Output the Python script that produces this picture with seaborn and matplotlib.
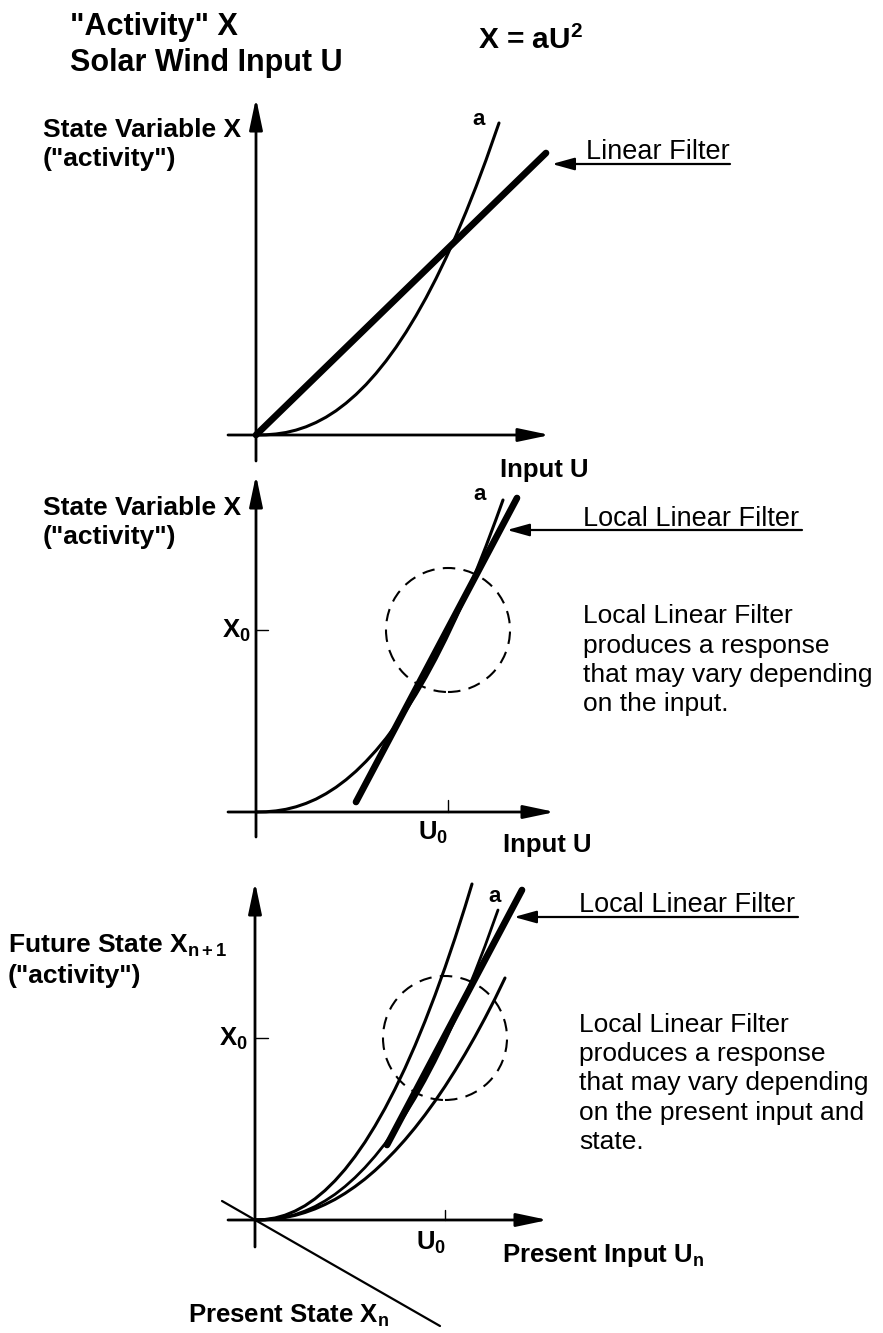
import matplotlib
matplotlib.use("Agg")
import matplotlib.pyplot as plt
from matplotlib.patches import Circle
import seaborn as sns

W, H, S = 883, 1333, 100   # figure size in px, px per unit

# ---- panel 1: X = aU^2 and one global linear filter (units, origin at axes cross)
p1_curve_u = [0, 0.1, 0.2, 0.3, 0.4, 0.5, 0.6, 0.7, 0.8, 0.9, 1.0, 1.1, 1.2, 1.3,
              1.4, 1.5, 1.6, 1.7, 1.8, 1.9, 2.0, 2.1, 2.2, 2.3, 2.43]
p1_curve_x = [0, 0.002, 0.010, 0.025, 0.049, 0.082, 0.125, 0.178, 0.242, 0.318,
              0.405, 0.504, 0.616, 0.740, 0.877, 1.028, 1.193, 1.371, 1.564,
              1.771, 1.993, 2.230, 2.482, 2.749, 3.12]
p1_filter_u = [0, 2.90]
p1_filter_x = [0, 2.82]

# ---- panel 2: local linear filter around (U0, X0)
p2_curve_u = [0, 0.1, 0.2, 0.3, 0.4, 0.5, 0.6, 0.7, 0.8, 0.9, 1.0, 1.1, 1.2, 1.3,
              1.4, 1.5, 1.6, 1.7, 1.8, 1.9, 2.0, 2.1, 2.2, 2.3, 2.4, 2.47]
p2_curve_x = [0, 0.002, 0.011, 0.027, 0.052, 0.086, 0.129, 0.183, 0.247, 0.322,
              0.408, 0.506, 0.615, 0.736, 0.870, 1.016, 1.175, 1.346, 1.531,
              1.729, 1.941, 2.166, 2.405, 2.658, 2.926, 3.12]
p2_filter_u = [1.00, 2.61]
p2_filter_x = [0.10, 3.14]
p2_u0, p2_x0 = 1.92, 1.82

# ---- panel 3: family of curves depending on present state
p3_left_u = [0, 0.1, 0.2, 0.3, 0.4, 0.5, 0.6, 0.7, 0.8, 0.9, 1.0, 1.1, 1.2, 1.3,
             1.4, 1.5, 1.6, 1.7, 1.8, 1.9, 2.0, 2.1, 2.17]
p3_left_x = [0, 0.005, 0.020, 0.048, 0.089, 0.143, 0.212, 0.295, 0.393, 0.506,
             0.635, 0.779, 0.940, 1.116, 1.309, 1.518, 1.744, 1.987, 2.247,
             2.524, 2.818, 3.130, 3.36]
p3_mid_u = [0, 0.1, 0.2, 0.3, 0.4, 0.5, 0.6, 0.7, 0.8, 0.9, 1.0, 1.1, 1.2, 1.3,
            1.4, 1.5, 1.6, 1.7, 1.8, 1.9, 2.0, 2.1, 2.2, 2.3, 2.43]
p3_mid_x = [0, 0.002, 0.012, 0.029, 0.054, 0.090, 0.135, 0.191, 0.257, 0.335,
            0.424, 0.525, 0.638, 0.763, 0.901, 1.052, 1.215, 1.392, 1.582,
            1.786, 2.003, 2.234, 2.480, 2.739, 3.10]
p3_right_u = [0, 0.1, 0.2, 0.3, 0.4, 0.5, 0.6, 0.7, 0.8, 0.9, 1.0, 1.1, 1.2, 1.3,
              1.4, 1.5, 1.6, 1.7, 1.8, 1.9, 2.0, 2.1, 2.2, 2.3, 2.4, 2.5]
p3_right_x = [0, 0.002, 0.010, 0.025, 0.046, 0.075, 0.111, 0.155, 0.206, 0.266,
              0.334, 0.410, 0.495, 0.589, 0.691, 0.802, 0.922, 1.051, 1.189,
              1.336, 1.493, 1.659, 1.834, 2.019, 2.213, 2.42]
p3_filter_u = [1.32, 2.67]
p3_filter_x = [0.75, 3.30]
p3_state_u = [-0.33, 1.85]
p3_state_x = [0.19, -1.06]
p3_u0, p3_x0 = 1.90, 1.82

sns.set_theme(style="white")
plt.rcParams["font.family"] = ["Liberation Sans", "DejaVu Sans"]
plt.rcParams["mathtext.fontset"] = "custom"
plt.rcParams["mathtext.rm"] = "Liberation Sans"
plt.rcParams["mathtext.bf"] = "Liberation Sans:bold"
plt.rcParams["mathtext.it"] = "Liberation Sans:italic"

fig = plt.figure(figsize=(W / 100, H / 100), dpi=100)


def new_panel():
    ax = fig.add_axes([0, 0, 1, 1])
    ax.patch.set_alpha(0)
    return ax


def finish(ax, ox, oy):
    # origin of the drawn axes sits at pixel (ox, oy)
    ax.set_xlim(-ox / S, (W - ox) / S)
    ax.set_ylim((oy - H) / S, oy / S)
    ax.set_axis_off()


def arrow(ax, start, tip, lw=2.0, hl=0.95, hw=0.2, ms=20):
    ax.annotate("", xy=tip, xytext=start, annotation_clip=False,
                arrowprops=dict(arrowstyle=f"-|>,head_length={hl},head_width={hw}",
                                mutation_scale=ms, lw=lw, color="black",
                                shrinkA=0, shrinkB=0))


def line(ax, u, x, lw):
    sns.lineplot(x=u, y=x, ax=ax, color="black", linewidth=lw, sort=False)


def txt(px, py, s, size=19, weight="normal"):
    fig.text(px / W, 1 - py / H, s, fontsize=size, fontweight=weight,
             ha="left", va="baseline", color="black")


def circle(ax, u0, x0):
    ax.add_patch(Circle((u0, x0), 0.62, fill=False, ec="black", lw=1.5,
                        ls=(0, (6, 4)), clip_on=False))


# ---------------- panel 1
ax1 = new_panel()
line(ax1, p1_curve_u, p1_curve_x, 2.2)
line(ax1, p1_filter_u, p1_filter_x, 4.8)
arrow(ax1, (-0.28, 0), (2.94, 0))
arrow(ax1, (0, -0.26), (0, 3.37))
arrow(ax1, (4.74, 2.71), (2.96, 2.71), lw=1.6, hl=0.9, hw=0.25, ms=15)
finish(ax1, 256, 435)

# ---------------- panel 2
ax2 = new_panel()
line(ax2, p2_curve_u, p2_curve_x, 2.2)
line(ax2, p2_filter_u, p2_filter_x, 4.8)
circle(ax2, p2_u0, p2_x0)
arrow(ax2, (-0.28, 0), (2.99, 0))
arrow(ax2, (0, -0.25), (0, 3.37))
ax2.plot([0, 0.12], [p2_x0, p2_x0], color="black", lw=1)
ax2.plot([p2_u0, p2_u0], [0, 0.12], color="black", lw=1)
arrow(ax2, (5.46, 2.82), (2.51, 2.82), lw=1.6, hl=0.9, hw=0.25, ms=15)
finish(ax2, 256, 812)

# ---------------- panel 3
ax3 = new_panel()
line(ax3, p3_left_u, p3_left_x, 2.2)
line(ax3, p3_mid_u, p3_mid_x, 2.0)
line(ax3, p3_right_u, p3_right_x, 2.2)
line(ax3, p3_filter_u, p3_filter_x, 4.8)
line(ax3, p3_state_u, p3_state_x, 1.6)
circle(ax3, p3_u0, p3_x0)
arrow(ax3, (-0.27, 0), (2.93, 0))
arrow(ax3, (0, -0.27), (0, 3.38))
ax3.plot([0, 0.13], [p3_x0, p3_x0], color="black", lw=1)
ax3.plot([p3_u0, p3_u0], [0, 0.10], color="black", lw=1)
arrow(ax3, (5.43, 3.03), (2.59, 3.03), lw=1.6, hl=0.9, hw=0.25, ms=15)
finish(ax3, 255, 1220)

# ---------------- text
txt(70, 35, '"Activity" X', 22, "bold")
txt(70, 71, "Solar Wind Input U", 22, "bold")
txt(478, 49, r"X = aU$^{\mathbf{2}}$", 21.5, "bold")

txt(43, 137, "State Variable X", 19, "bold")
txt(43, 166, '("activity")', 19, "bold")
txt(472, 125, "a", 16, "bold")
txt(586, 159, "Linear Filter", 19.5)
txt(500, 477, "Input U", 18.5, "bold")

txt(43, 515, "State Variable X", 19, "bold")
txt(43, 544, '("activity")', 19, "bold")
txt(473, 500, "a", 16, "bold")
txt(583, 526, "Local Linear Filter", 19.5)
for i, s in enumerate(["Local Linear Filter", "produces a response",
                       "that may vary depending", "on the input."]):
    txt(583, 623 + 29.5 * i, s, 19)
txt(222, 638, r"$\mathbf{X_0}$", 18.5, "bold")
txt(418, 840, r"$\mathbf{U_0}$", 18.5, "bold")
txt(503, 852, "Input U", 18.5, "bold")

txt(8, 953, r"Future State $\mathbf{X_{n+1}}$", 19, "bold")
txt(8, 983, '("activity")', 19, "bold")
txt(488, 902, "a", 16, "bold")
txt(579, 912, "Local Linear Filter", 19.5)
for i, s in enumerate(["Local Linear Filter", "produces a response",
                       "that may vary depending", "on the present input and",
                       "state."]):
    txt(579, 1032 + 29.2 * i, s, 19)
txt(219, 1046, r"$\mathbf{X_0}$", 18.5, "bold")
txt(416, 1250, r"$\mathbf{U_0}$", 18.5, "bold")
txt(502, 1262, r"Present Input $\mathbf{U_n}$", 18.5, "bold")
txt(188, 1323, r"Present State $\mathbf{X_n}$", 18.5, "bold")

fig.savefig("out.png", dpi=100, facecolor="white")
